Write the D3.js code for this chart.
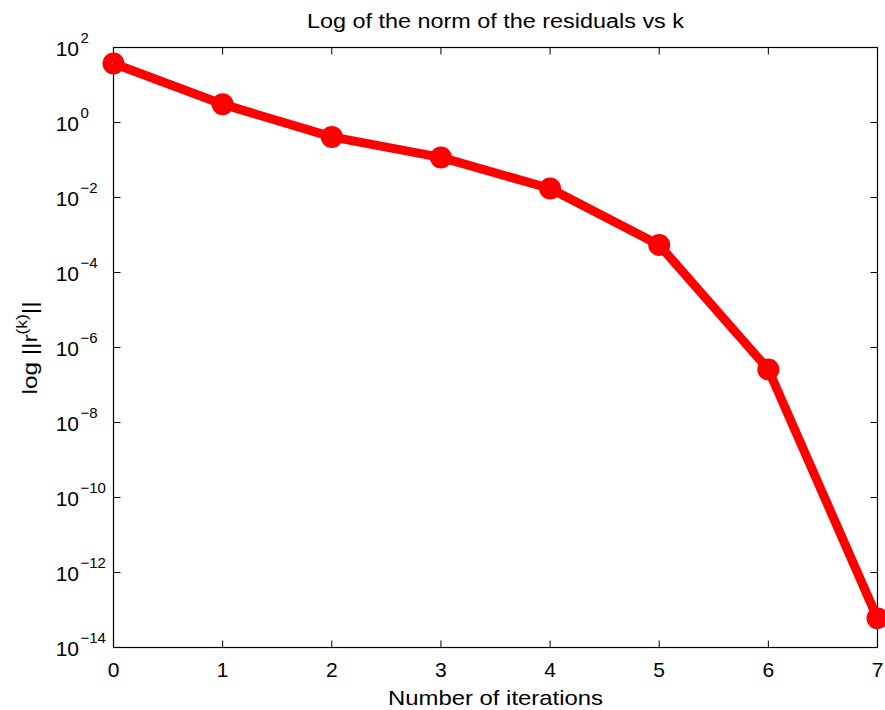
<!DOCTYPE html>
<html>
<head>
<meta charset="utf-8">
<script src="https://cdn.jsdelivr.net/npm/d3@7"></script>
<style>
    body { margin: 0; background: #fff; }
    svg text { font-family: "Liberation Sans", Arial, sans-serif; fill: #000; }
</style>
</head>
<body>
<svg id="chart" width="885" height="710"></svg>
<script>
// iterations k and the residual norms
const iterations = [0, 1, 2, 3, 4, 5, 6, 7]
const residuals = [37.4, 3.08, 0.413, 0.117, 0.0174, 5.4e-4, 2.6e-7, 6.0e-14]
const xTicks = [0, 1, 2, 3, 4, 5, 6, 7]
const yTickExps = [2, 0, -2, -4, -6, -8, -10, -12, -14]

const titleText = 'Log of the norm of the residuals vs k'
const xLabelText = 'Number of iterations'

const W = 885, H = 710
const margin = {left: 113.5, right: 885 - 877.5, top: 47.5, bottom: 710 - 647.5}
const plotW = W - margin.left - margin.right
const plotH = H - margin.top - margin.bottom

let svg = d3.select('#chart')

let x = d3.scaleLinear().domain([0, 7]).range([0, plotW])
let y = d3.scaleLog().domain([1e-14, 1e2]).range([plotH, 0])

let g = svg.append('g').attr('transform', `translate(${margin.left},${margin.top})`)

// ticks inside the box, on all four sides
const tickLen = 7
let tickGrp = g.append('g').attr('stroke', '#000').attr('stroke-width', 1)
xTicks.forEach(t => {
    let px = x(t)
    tickGrp.append('line').attr('x1', px).attr('x2', px).attr('y1', plotH).attr('y2', plotH - tickLen)
    tickGrp.append('line').attr('x1', px).attr('x2', px).attr('y1', 0).attr('y2', tickLen)
})
yTickExps.forEach(e => {
    let py = y(Math.pow(10, e))
    tickGrp.append('line').attr('x1', 0).attr('x2', tickLen).attr('y1', py).attr('y2', py)
    tickGrp.append('line').attr('x1', plotW).attr('x2', plotW - tickLen).attr('y1', py).attr('y2', py)
})

// x tick labels
g.append('g').selectAll('text').data(xTicks).enter().append('text')
    .attr('x', d => x(d))
    .attr('y', plotH + 29)
    .attr('text-anchor', 'middle')
    .attr('font-size', 21)
    .text(d => d)

// y tick labels: "10" plus superscript exponent
let yLab = g.append('g')
yTickExps.forEach(e => {
    let py = y(Math.pow(10, e))
    yLab.append('text')
        .attr('x', -34.5)
        .attr('y', py + 8)
        .attr('text-anchor', 'end')
        .attr('font-size', 21)
        .text('10')
    yLab.append('text')
        .attr('x', -33)
        .attr('y', py - 5)
        .attr('font-size', 15)
        .text(e < 0 ? '\u2212' + (-e) : e)
})

// box
g.append('rect')
    .attr('width', plotW).attr('height', plotH)
    .attr('fill', 'none').attr('stroke', '#000').attr('stroke-width', 1.2)

// the residual line
let line = d3.line().x((d, i) => x(iterations[i])).y(d => y(d))
g.append('path')
    .datum(residuals)
    .attr('d', line)
    .attr('fill', 'none')
    .attr('stroke', '#ff0000')
    .attr('stroke-width', 9)
    .attr('stroke-linejoin', 'round')

g.append('g').selectAll('circle').data(residuals).enter().append('circle')
    .attr('cx', (d, i) => x(iterations[i]))
    .attr('cy', d => y(d))
    .attr('r', 6)
    .attr('fill', 'none')
    .attr('stroke', '#ff0000')
    .attr('stroke-width', 10)

// title and axis labels
svg.append('text')
    .attr('x', margin.left + plotW / 2)
    .attr('y', 28)
    .attr('text-anchor', 'middle')
    .attr('font-size', 20)
    .attr('textLength', 377)
    .attr('lengthAdjust', 'spacingAndGlyphs')
    .text(titleText)

svg.append('text')
    .attr('x', margin.left + plotW / 2)
    .attr('y', 705)
    .attr('text-anchor', 'middle')
    .attr('font-size', 21)
    .attr('textLength', 215)
    .attr('lengthAdjust', 'spacingAndGlyphs')
    .text(xLabelText)

let yl = svg.append('text')
    .attr('transform', 'translate(37,348) rotate(-90)')
    .attr('text-anchor', 'middle')
    .attr('font-size', 21)
    .attr('textLength', 93)
    .attr('lengthAdjust', 'spacingAndGlyphs')
yl.append('tspan').text('log ||r')
yl.append('tspan').attr('font-size', 15).attr('dy', -10).text('(k)')
yl.append('tspan').attr('dy', 10).text('||')
</script>
</body>
</html>
